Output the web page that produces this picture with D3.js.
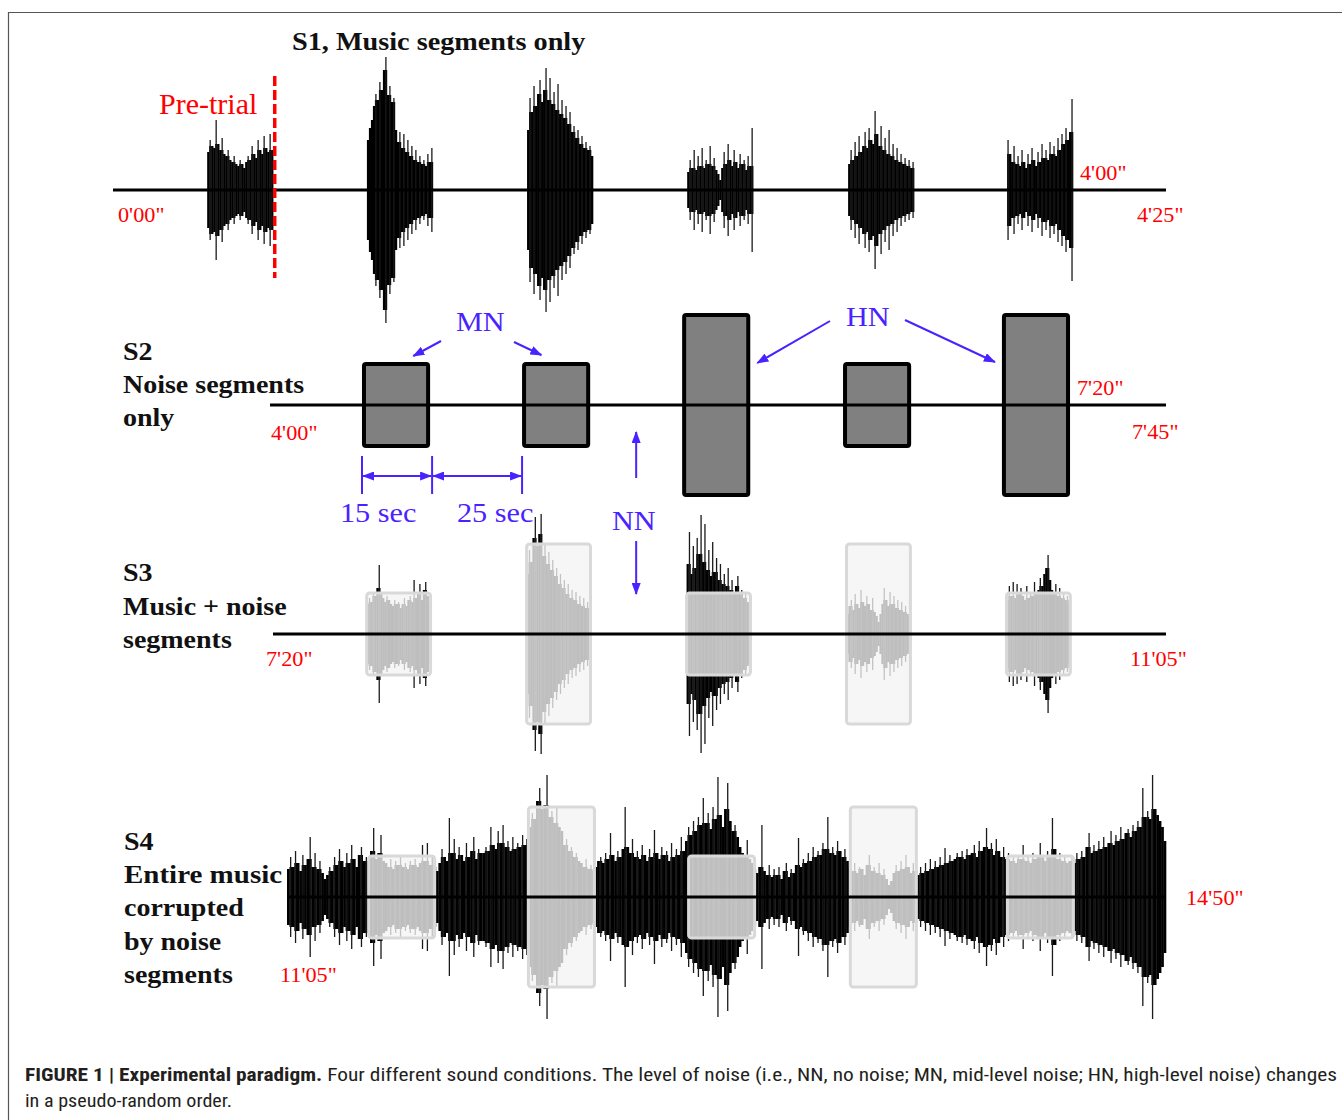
<!DOCTYPE html>
<html>
<head>
<meta charset="utf-8">
<title>Experimental paradigm</title>
<script src="https://cdn.jsdelivr.net/npm/d3@7"></script>
<style>
  body { margin: 0; background: #fff; }
  svg { display: block; }
</style>
</head>
<body>
<svg id="fig" width="1342" height="1120"></svg>
<script>
// ---- data (seconds, amplitude units) ----
var noiseLevel = {MN: 41, HN: 90};

// S1: music segments only (first one is the pre-trial)
var s1Onsets = [23.7, 63.9, 104.2, 144.5, 185.0, 225.0];
var s1Dur = 16.6;
var s1Music = [
  [38,50,44,42,70,46,40,52,36,34,40,30,28,34,26,24,30,26,22,28,34,30,44,36,32,50,40,36,54,42,38,56,40],
  [50,62,70,84,96,90,108,100,120,133,95,104,88,92,60,48,58,42,56,38,50,34,44,30,40,28,34,26,30,24,36,28,42],
  [60,92,78,104,84,96,110,88,100,122,90,112,86,98,80,106,76,90,72,84,66,78,58,64,52,60,46,54,42,48,40,44,34],
  [18,30,22,40,20,34,24,42,22,30,26,44,24,32,20,16,10,22,38,26,46,30,24,40,28,22,36,26,30,20,34,24,62],
  [26,40,30,48,34,54,38,44,58,42,62,50,46,79,56,44,64,40,52,36,60,34,46,30,42,28,36,26,32,24,30,22,28],
  [50,36,28,44,26,34,24,40,28,22,36,26,42,30,24,38,28,46,32,40,30,48,36,44,34,52,40,56,46,62,50,58,91]
];

// S2: noise segments only
var s2Onsets = [263.6, 303.8, 344.0, 384.4, 424.3];
var s2Dur = 16.1;
var s2Noise = ["MN", "MN", "HN", "MN", "HN"];

// S3: music + noise segments
var s3Onsets = [463.6, 503.9, 544.2, 584.5, 624.8];
var s3Dur = 16.1;
var s3Noise = ["MN", "HN", "MN", "HN", "MN"];
var s3Music = [
  [30,36,32,40,38,46,69,42,36,32,38,34,30,28,34,30,32,26,30,36,28,34,38,32,54,36,40,50,34,44,52,38,30],
  [60,84,72,96,117,88,100,120,78,90,70,82,64,74,58,66,50,60,46,54,40,50,36,44,34,42,30,38,28,36,26,32,24],
  [70,102,60,88,66,96,80,119,72,110,64,84,58,92,62,76,54,70,50,60,48,66,44,54,42,48,58,40,44,36,40,32,30],
  [20,28,34,24,40,30,26,44,32,28,38,30,24,36,22,18,12,20,30,46,34,28,42,30,38,26,34,24,32,22,28,20,18],
  [34,48,38,52,36,50,40,46,38,34,48,36,42,38,52,40,44,56,48,60,66,79,54,44,40,50,38,46,36,42,34,38,30]
];

// S4: entire music corrupted by noise segments (9 blocks of 25 s)
var s4Onsets = [685.9, 726.8, 767.8, 809.2, 849.4];
var s4Dur = 16.9;
var s4Noise = ["MN", "HN", "MN", "HN", "MN"];
var s4Music = [
  [28,40,30,46,34,26,42,32,38,60,30,44,28,36,24,18,22,30,26,40,32,48,36,30,44,34,52,38,30,42,50,36,40,32,46,69,38,44,62,36],
  [34,30,38,28,36,32,40,30,34,28,36,32,38,30,34,52,36,54,32,40,30,26,34,48,40,36,79,44,58,38,50,42,36,54,40,46,60,38,48,44],
  [44,50,46,70,52,48,66,54,72,50,56,46,60,48,54,50,62,52,58,70,84,78,96,109,88,92,122,80,86,74,90,70,66,52,58,46,50,40,44,36],
  [34,30,38,28,32,26,30,36,40,34,44,38,64,42,36,46,40,48,90,50,44,58,40,46,38,52,42,36,48,40,67,44,38,50,42,46,36,54,40,48],
  [42,60,46,56,70,62,76,66,80,72,99,74,84,68,90,78,120,82,70,88,114,76,66,72,60,50,44,40,57,38,34,28,24,30,72,26,22,32,20,28],
  [22,30,18,26,34,20,28,24,32,59,30,38,34,44,36,50,40,46,42,54,48,80,44,50,42,56,46,40,48,36,30,26,34,24,30,28,22,32,42,26],
  [30,24,34,22,28,18,12,16,24,32,26,36,28,42,30,24,34,26,22,30,24,34,26,38,28,36,30,40,32,49,34,42,36,38,44,40,46,38,48,42],
  [44,52,40,56,46,50,69,48,54,42,58,46,40,50,38,44,36,42,34,40,38,52,36,42,34,44,38,40,54,42,36,46,40,79,48,38,44,36,40,34],
  [36,40,34,44,38,46,40,50,64,44,52,46,56,48,60,50,54,66,52,62,56,70,58,64,68,60,72,66,76,70,109,80,86,78,122,88,82,76,70,56]
];

// row time spans and time labels
var s1Span = [0, 265], s2Span = [240, 465], s3Span = [440, 665], s4Span = [665, 890];
var s1Labels = ["0'00\"", "4'00\"", "4'25\""];
var s2Labels = ["4'00\"", "7'20\"", "7'45\""];
var s3Labels = ["7'20\"", "11'05\""];
var s4Labels = ["11'05\"", "14'50\""];

// ---- drawing ----
var svg = d3.select("#fig");
var SERIF = "'Liberation Serif', 'Times New Roman', serif";
var RED = "#ff0000", BLUE = "#4a22ff";

var amp = d3.scaleLinear().domain([0, 100]).range([0, 100]);

var x1 = d3.scaleLinear().domain(s1Span).range([113, 1166]),
    x2 = d3.scaleLinear().domain(s2Span).range([270, 1166]),
    x3 = d3.scaleLinear().domain(s3Span).range([273, 1166]),
    x4 = d3.scaleLinear().domain(s4Span).range([287, 1166]);

var y1 = 190, y2 = 405, y3 = 634, y4 = 897;

var defs = svg.append("defs");
defs.append("marker")
    .attr("id", "head")
    .attr("markerUnits", "userSpaceOnUse")
    .attr("viewBox", "0 0 12 9")
    .attr("markerWidth", 12).attr("markerHeight", 9)
    .attr("refX", 11).attr("refY", 4.5)
    .attr("orient", "auto-start-reverse")
    .append("path").attr("d", "M0,0L12,4.5L0,9Z").attr("fill", BLUE);

// frame
svg.append("path")
    .attr("d", "M8.5,1120V12.5H1342")
    .attr("fill", "none").attr("stroke", "#555").attr("stroke-width", 1.2);

function label(str, x, y, size, color, opts) {
  opts = opts || {};
  return svg.append("text")
      .attr("transform", "translate(" + x + "," + y + ") scale(" + (opts.sx || 1) + ",1)")
      .attr("font-family", SERIF)
      .attr("font-size", size)
      .attr("font-weight", opts.bold ? "bold" : "normal")
      .attr("fill", color)
      .text(str);
}

function wave(g, x, y0, t0, dur, vals) {
  var step = dur / vals.length;
  vals.forEach(function(v, i) {
    var prev = i > 0 ? vals[i - 1] : 0,
        next = i < vals.length - 1 ? vals[i + 1] : 0,
        core = Math.min(v, Math.max(prev, next)),
        xa = x(t0 + i * step), xb = x(t0 + (i + 1) * step);
    g.append("rect")
        .attr("x", xa).attr("width", xb - xa + 0.3)
        .attr("y", y0 - amp(core)).attr("height", 2 * amp(core))
        .attr("fill", "#000");
    if (v > core) {
      g.append("line")
          .attr("x1", (xa + xb) / 2).attr("x2", (xa + xb) / 2)
          .attr("y1", y0 - amp(v)).attr("y2", y0 + amp(v))
          .attr("stroke", "#1a1a1a").attr("stroke-width", 1.3);
    }
  });
}

function baseline(x, y0) {
  var r = x.range();
  svg.append("line")
      .attr("x1", r[0]).attr("x2", r[1]).attr("y1", y0).attr("y2", y0)
      .attr("stroke", "#000").attr("stroke-width", 3);
}

function overlays(g, x, y0, onsets, dur, levels) {
  g.selectAll("rect.ov").data(onsets).enter().append("rect")
      .attr("class", "ov")
      .attr("x", function(d) { return x(d); })
      .attr("width", function(d) { return x(d + dur) - x(d); })
      .attr("y", function(d, i) { return y0 - amp(noiseLevel[levels[i]]); })
      .attr("height", function(d, i) { return 2 * amp(noiseLevel[levels[i]]); })
      .attr("rx", 3)
      .attr("fill", "#f3f3f3").attr("fill-opacity", 0.78)
      .attr("stroke", "#d9d9d9").attr("stroke-width", 3);
}

// ---- S1 ----
var g1 = svg.append("g");
s1Onsets.forEach(function(t, i) { wave(g1, x1, y1, t, s1Dur, s1Music[i]); });
baseline(x1, y1);
svg.append("line")
    .attr("x1", x1(40.7)).attr("x2", x1(40.7)).attr("y1", 76).attr("y2", 278)
    .attr("stroke", RED).attr("stroke-width", 3.5).attr("stroke-dasharray", "10,4");
label("S1, Music segments only", 292, 50, 25, "#111", {bold: true, sx: 1.13});
label("Pre-trial", 159, 114, 30, RED, {sx: 1.0});
label(s1Labels[0], 118, 222, 21, RED, {sx: 1.06});
label(s1Labels[1], 1080, 180, 21, RED, {sx: 1.06});
label(s1Labels[2], 1137, 222, 21, RED, {sx: 1.06});

// ---- S2 ----
var g2 = svg.append("g");
g2.selectAll("rect").data(s2Onsets).enter().append("rect")
    .attr("x", function(d) { return x2(d); })
    .attr("width", function(d) { return x2(d + s2Dur) - x2(d); })
    .attr("y", function(d, i) { return y2 - amp(noiseLevel[s2Noise[i]]); })
    .attr("height", function(d, i) { return 2 * amp(noiseLevel[s2Noise[i]]); })
    .attr("rx", 2)
    .attr("fill", "#808080").attr("stroke", "#000").attr("stroke-width", 4);
baseline(x2, y2);

label("S2", 123, 360, 25, "#111", {bold: true, sx: 1.12});
label("Noise segments", 123, 393, 25, "#111", {bold: true, sx: 1.12});
label("only", 123, 426, 25, "#111", {bold: true, sx: 1.12});
label(s2Labels[0], 271, 440, 21, RED, {sx: 1.06});
label(s2Labels[1], 1077, 395, 21, RED, {sx: 1.06});
label(s2Labels[2], 1132, 439, 21, RED, {sx: 1.06});

// annotations
function arrow(p, q, both) {
  var l = svg.append("line")
      .attr("x1", p[0]).attr("y1", p[1]).attr("x2", q[0]).attr("y2", q[1])
      .attr("stroke", BLUE).attr("stroke-width", 2)
      .attr("marker-end", "url(#head)");
  if (both) l.attr("marker-start", "url(#head)");
}
var mnTop = y2 - amp(noiseLevel.MN), hnTop = y2 - amp(noiseLevel.HN);
label("MN", 456, 331, 28, BLUE, {sx: 1.08});
arrow([441, 341], [x2(s2Onsets[0] + s2Dur * 0.77), mnTop - 8]);
arrow([514, 342], [x2(s2Onsets[1] + s2Dur * 0.27), mnTop - 9]);
label("HN", 846, 326, 28, BLUE, {sx: 1.08});
arrow([830, 321], [x2(s2Onsets[2] + s2Dur) + 9, hnTop + 48]);
arrow([905, 320], [x2(s2Onsets[4]) - 9, hnTop + 47]);

var nnX = (x2(s2Onsets[1] + s2Dur) + x2(s2Onsets[2])) / 2;
label("NN", 612, 530, 28, BLUE, {sx: 1.08});
arrow([nnX, 478], [nnX, 432]);
arrow([nnX, 541], [nnX, 594]);

// 15 sec / 25 sec dimensions
var dims = [x2(s2Onsets[0]) - 2, x2(s2Onsets[0] + s2Dur) + 4, x2(s2Onsets[1]) - 2];
dims.forEach(function(d) {
  svg.append("line").attr("x1", d).attr("x2", d).attr("y1", 456).attr("y2", 494)
      .attr("stroke", BLUE).attr("stroke-width", 2);
});
arrow([dims[0] + 1, 476], [dims[1] - 1, 476], true);
arrow([dims[1] + 1, 476], [dims[2] - 1, 476], true);
label("15 sec", 340, 522, 28, BLUE, {sx: 1.08});
label("25 sec", 457, 522, 28, BLUE, {sx: 1.08});

// ---- S3 ----
var g3 = svg.append("g");
s3Onsets.forEach(function(t, i) { wave(g3, x3, y3, t, s3Dur, s3Music[i]); });
overlays(g3, x3, y3, s3Onsets, s3Dur, s3Noise);
baseline(x3, y3);
label("S3", 123, 581, 25, "#111", {bold: true, sx: 1.12});
label("Music + noise", 123, 615, 25, "#111", {bold: true, sx: 1.12});
label("segments", 123, 648, 25, "#111", {bold: true, sx: 1.12});
label(s3Labels[0], 266, 666, 21, RED, {sx: 1.06});
label(s3Labels[1], 1130, 666, 21, RED, {sx: 1.06});

// ---- S4 ----
var g4 = svg.append("g");
var s4All = d3.merge(s4Music);
wave(g4, x4, y4, s4Span[0], s4Span[1] - s4Span[0], s4All);
overlays(g4, x4, y4, s4Onsets, s4Dur, s4Noise);
baseline(x4, y4);
label("S4", 124, 850, 25, "#111", {bold: true, sx: 1.12});
label("Entire music", 124, 883, 25, "#111", {bold: true, sx: 1.16});
label("corrupted", 124, 916, 25, "#111", {bold: true, sx: 1.12});
label("by noise", 124, 950, 25, "#111", {bold: true, sx: 1.12});
label("segments", 124, 983, 25, "#111", {bold: true, sx: 1.12});
label(s4Labels[0], 280, 982, 21, RED, {sx: 1.06});
label(s4Labels[1], 1186, 905, 21, RED, {sx: 1.06});

// ---- caption ----
var CAP = "'Liberation Sans Narrow', 'Roboto Condensed', Roboto, 'Liberation Sans', sans-serif";
var c1 = svg.append("text")
    .attr("x", 25).attr("y", 1081)
    .attr("font-family", CAP).attr("font-size", 18).attr("fill", "#231f20")
    .attr("textLength", 1312).attr("lengthAdjust", "spacingAndGlyphs");
c1.append("tspan").attr("font-weight", "bold").text("FIGURE 1 | Experimental paradigm.");
c1.append("tspan").text(" Four different sound conditions. The level of noise (i.e., NN, no noise; MN, mid-level noise; HN, high-level noise) changes");
svg.append("text")
    .attr("x", 25).attr("y", 1107)
    .attr("font-family", CAP).attr("font-size", 18).attr("fill", "#231f20")
    .attr("textLength", 207).attr("lengthAdjust", "spacingAndGlyphs")
    .text("in a pseudo-random order.");
</script>
</body>
</html>
